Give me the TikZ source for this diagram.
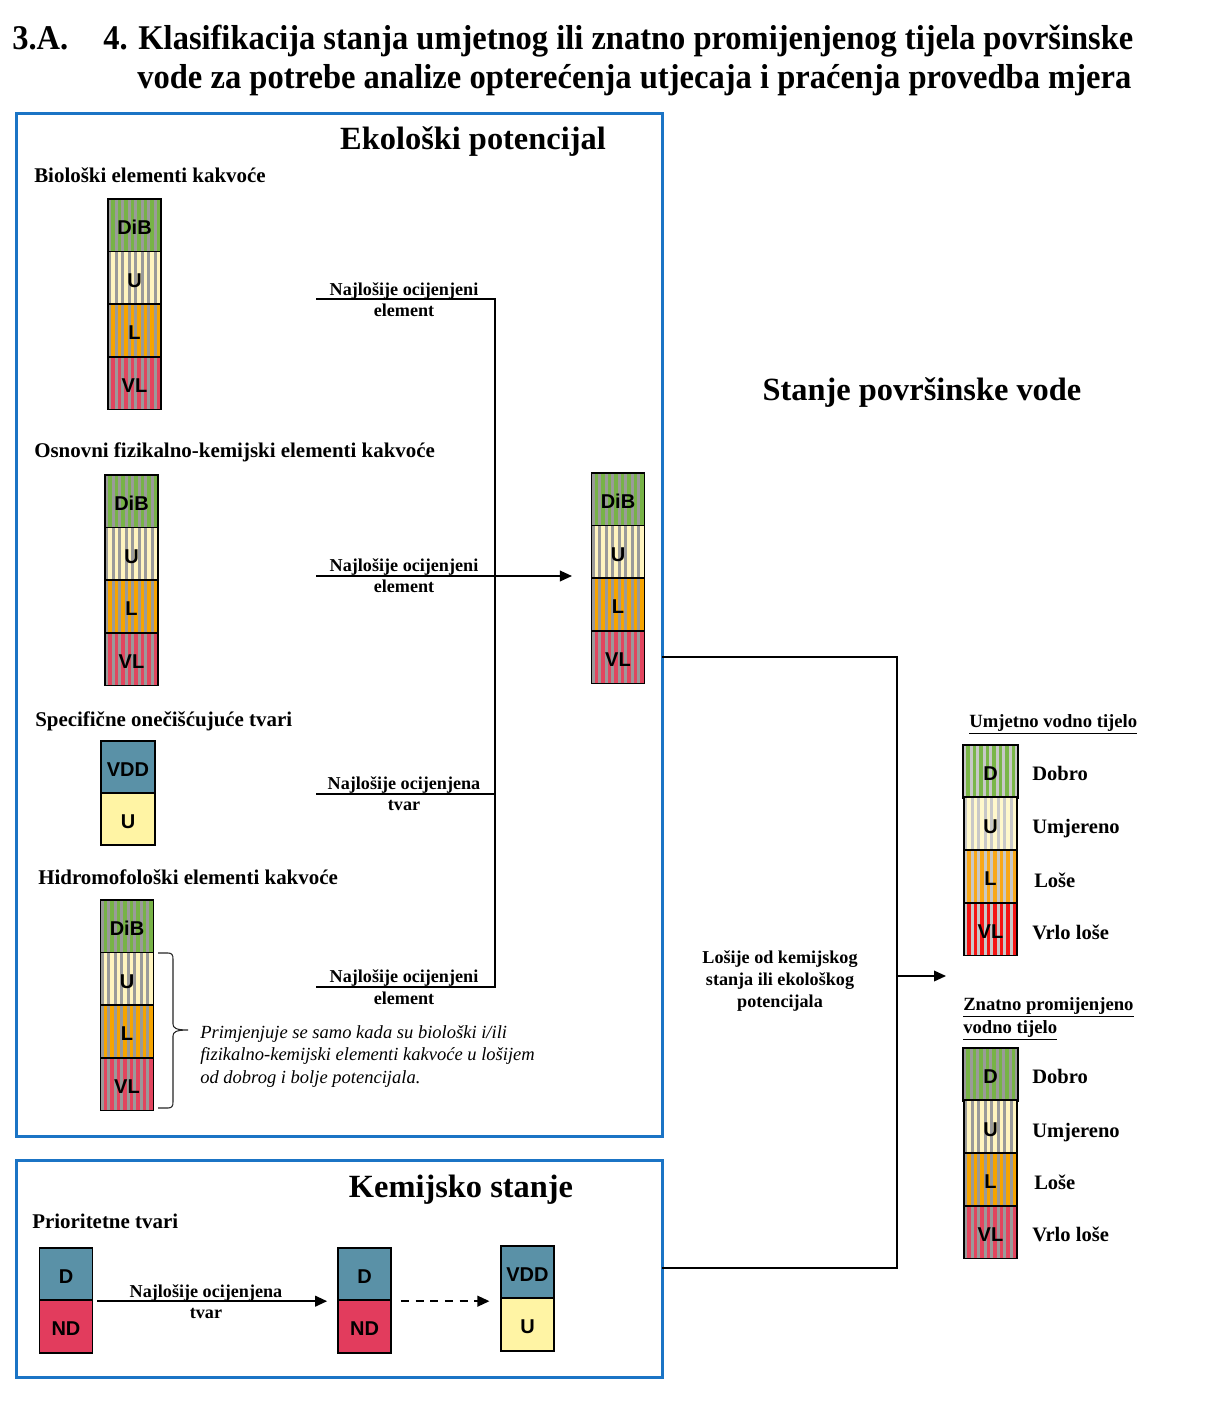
\documentclass[tikz,border=0pt]{standalone}
\usepackage{fontspec}
\setmainfont{Liberation Serif}
\setsansfont{Liberation Sans}
\usetikzlibrary{arrows.meta}
\definecolor{gA}{HTML}{77B346}
\definecolor{yA}{HTML}{FFF4BF}
\definecolor{oA}{HTML}{F6A400}
\definecolor{rA}{HTML}{E2455E}
\definecolor{sA}{HTML}{9A9A9A}
\definecolor{gB}{HTML}{7AB648}
\definecolor{yB}{HTML}{FFF8CC}
\definecolor{oB}{HTML}{F8A81A}
\definecolor{rB}{HTML}{F41414}
\definecolor{sB}{HTML}{C8C8C8}
\definecolor{vddc}{HTML}{5A91A7}
\definecolor{uyel}{HTML}{FFF4A4}
\definecolor{ndred}{HTML}{E23C5D}
\definecolor{frameblue}{HTML}{1B74C5}
\tikzset{
  cellbox/.style={draw=black, line width=1.3pt, minimum width=39.75pt, minimum height=39.45pt,
    inner sep=0pt, text height=14pt, text depth=0pt, font=\fontsize{15}{15}\selectfont\sffamily\bfseries},
  striped/.style 2 args={fill=#1, path picture={\foreach \k in {0,...,9}{\fill[#2]
      ([xshift=\k*4.9pt]path picture bounding box.south west) rectangle ++(2.3pt,45pt);}}},
  ttl/.style={inner sep=0pt, font=\fontsize{26}{30}\selectfont\bfseries},
  big/.style={inner sep=0pt, font=\fontsize{24.3}{28}\selectfont\bfseries},
  hdr/.style={inner sep=0pt, font=\fontsize{15.7}{18}\selectfont\bfseries},
  lbl/.style={inner sep=0pt, font=\fontsize{13.6}{16}\selectfont\bfseries},
  leg/.style={inner sep=0pt, font=\fontsize{15.4}{18}\selectfont\bfseries},
  legt/.style={inner sep=0pt, font=\fontsize{14}{17}\selectfont\bfseries},
  ital/.style={inner sep=0pt, font=\fontsize{13.9}{17}\selectfont\itshape},
  frame/.style={draw=frameblue, line width=2.25pt},
  conn/.style={draw=black, line width=1.1pt},
  arr/.style={-{Triangle[length=9pt,width=8pt]}},
  bracestyle/.style={draw=black!85, line width=0.8pt},
}
\newcommand\fstack[6]{%
  \node[cellbox,#6,striped={g#5}{s#5}] (#1a) at (#2,#3+26.3) {#4};
  \node[cellbox,striped={y#5}{s#5}] (#1b) at (#2,#3+78.9) {U};
  \node[cellbox,striped={o#5}{s#5}] (#1c) at (#2,#3+131.5) {L};
  \node[cellbox,striped={r#5}{s#5}] (#1d) at (#2,#3+184.1) {VL};}
\begin{document}
\begin{tikzpicture}[x=0.75pt,y=-0.75pt]
\useasboundingbox[fill=white] (0,0) rectangle (1209,1402);
% title
\node[ttl, anchor=base west] (t0) at (12,50) {\resizebox{42pt}{\height}{3.A.}};
\node[ttl, anchor=base west] (t1) at (103,50) {\resizebox{772.5pt}{\height}{4. Klasifikacija stanja umjetnog ili znatno promijenjenog tijela površinske}};
\node[ttl, anchor=base west] (t2) at (137,89) {\resizebox{745.5pt}{\height}{vode za potrebe analize opterećenja utjecaja i praćenja provedba mjera}};
% frames
\draw[frame] (16,114) rectangle (662,1136);
\draw[frame] (16,1160) rectangle (662,1377);
% headings
\node[big, anchor=base] (ekot) at (473,150) {Ekološki potencijal};
\node[hdr, anchor=base west] (h1) at (34,183) {Biološki elementi kakvoće};
\node[hdr, anchor=base west] (h2) at (34,457) {Osnovni fizikalno-kemijski elementi kakvoće};
\node[hdr, anchor=base west] (h3) at (35,726) {Specifične onečišćujuće tvari};
\node[hdr, anchor=base west] (h4) at (38,884) {Hidromofološki elementi kakvoće};
\node[big, anchor=base] (svt) at (922,400) {Stanje površinske vode};
\node[big, anchor=base] (kst) at (461,1197) {Kemijsko stanje};
\node[hdr, anchor=base west] (h5) at (32,1228) {Prioritetne tvari};
% stacks
\fstack{bio}{134.5}{199}{DiB}{A}{}
\fstack{phy}{131.5}{475}{DiB}{A}{}
\fstack{hyd}{127}{900}{DiB}{A}{}
\fstack{res}{618}{473}{DiB}{A}{}
\node[cellbox, minimum width=40.5pt, fill=vddc] (spa) at (128,767) {VDD};
\node[cellbox, minimum width=40.5pt, fill=uyel] (spb) at (128,819) {U};
% brace and note
\draw[bracestyle] (158,953) -- (168,953) .. controls (172,953) and (173,955) .. (173,959)
  -- (173,1024) .. controls (173,1028) and (176,1030) .. (188,1030)
  .. controls (176,1030) and (173,1032) .. (173,1036)
  -- (173,1102) .. controls (173,1106) and (172,1108) .. (168,1108) -- (158,1108);
\node[ital, anchor=base west] (nt1) at (200,1038) {Primjenjuje se samo kada su biološki i/ili};
\node[ital, anchor=base west] (nt2) at (200,1060) {fizikalno-kemijski elementi kakvoće u lošijem};
\node[ital, anchor=base west] (nt3) at (200,1083) {od dobrog i bolje potencijala.};
% connectors in Ekološki potencijal
\coordinate (l1s) at (316,299); \coordinate (l1e) at (495,299);
\coordinate (l2s) at (316,576); \coordinate (l2e) at (495,576);
\coordinate (l3s) at (316,794); \coordinate (l3e) at (495,794);
\coordinate (l4s) at (316,987); \coordinate (l4e) at (495,987);
\draw[conn] (l1s) -- (l1e) -- (l4e) -- (l4s);
\draw[conn] (l2s) -- (l2e);
\draw[conn] (l3s) -- (l3e);
\draw[conn, arr, shorten >=14pt] (l2e) -- (l2e -| resb.west);
\node[lbl, anchor=base] (n1a) at (404,295) {Najlošije ocijenjeni};
\node[lbl, anchor=base] (n1b) at (404,316.5) {element};
\node[lbl, anchor=base] (n2a) at (404,571) {Najlošije ocijenjeni};
\node[lbl, anchor=base] (n2b) at (404,592.5) {element};
\node[lbl, anchor=base] (n3a) at (404,789) {Najlošije ocijenjena};
\node[lbl, anchor=base] (n3b) at (404,810.5) {tvar};
\node[lbl, anchor=base] (n4a) at (404,982) {Najlošije ocijenjeni};
\node[lbl, anchor=base] (n4b) at (404,1004) {element};
% Kemijsko stanje
\node[cellbox, fill=vddc] (k1a) at (66,1274) {D};
\node[cellbox, fill=ndred] (k1b) at (66,1326.5) {ND};
\node[cellbox, fill=vddc] (k2a) at (364.5,1274) {D};
\node[cellbox, fill=ndred] (k2b) at (364.5,1326.5) {ND};
\node[cellbox, fill=vddc] (k3a) at (527.5,1272.5) {VDD};
\node[cellbox, fill=uyel] (k3b) at (527.5,1324.5) {U};
\draw[conn, line width=1.4pt, arr, shorten <=3pt, shorten >=7.5pt] (k1a.south east) -- (k2a.south west);
\draw[conn, line width=1.4pt, dash pattern=on 6pt off 5pt, arr, shorten <=6.75pt, shorten >=8pt] (k2a.south east) -- (k2a.south east -| k3a.west);
\node[lbl, anchor=base] (kn1) at (206,1297) {Najlošije ocijenjena};
\node[lbl, anchor=base] (kn2) at (206,1318) {tvar};
% right connector
\coordinate (r1) at (662,657); \coordinate (r2) at (897,657);
\coordinate (r3) at (897,1268); \coordinate (r4) at (662,1268);
\coordinate (rm) at (897,976); \coordinate (rt) at (946,976);
\draw[conn] (r1) -- (r2) -- (r3) -- (r4);
\draw[conn, arr] (rm) -- (rt);
\node[lbl, anchor=base] (lo1) at (780,963) {Lošije od kemijskog};
\node[lbl, anchor=base] (lo2) at (780,985) {stanja ili ekološkog};
\node[lbl, anchor=base] (lo3) at (780,1007) {potencijala};
% legends
\node[legt, anchor=base west] (lg1t) at (969,727) {\underline{Umjetno vodno tijelo}};
\fstack{lga}{990.5}{745}{D}{B}{minimum width=41.25pt, line width=2pt}
\node[leg, anchor=base west] (la1) at (1032,780) {Dobro};
\node[leg, anchor=base west] (la2) at (1032,833) {Umjereno};
\node[leg, anchor=base west] (la3) at (1034,887) {Loše};
\node[leg, anchor=base west] (la4) at (1032,939) {Vrlo loše};
\node[legt, anchor=base west] (lg2t) at (963,1010) {\underline{Znatno promijenjeno}};
\node[legt, anchor=base west] (lg2u) at (963,1033) {\underline{vodno tijelo}};
\fstack{lgb}{990.5}{1048}{D}{A}{minimum width=41.25pt, line width=2pt}
\node[leg, anchor=base west] (lb1) at (1032,1083) {Dobro};
\node[leg, anchor=base west] (lb2) at (1032,1137) {Umjereno};
\node[leg, anchor=base west] (lb3) at (1034,1189) {Loše};
\node[leg, anchor=base west] (lb4) at (1032,1241) {Vrlo loše};
\end{tikzpicture}
\end{document}
